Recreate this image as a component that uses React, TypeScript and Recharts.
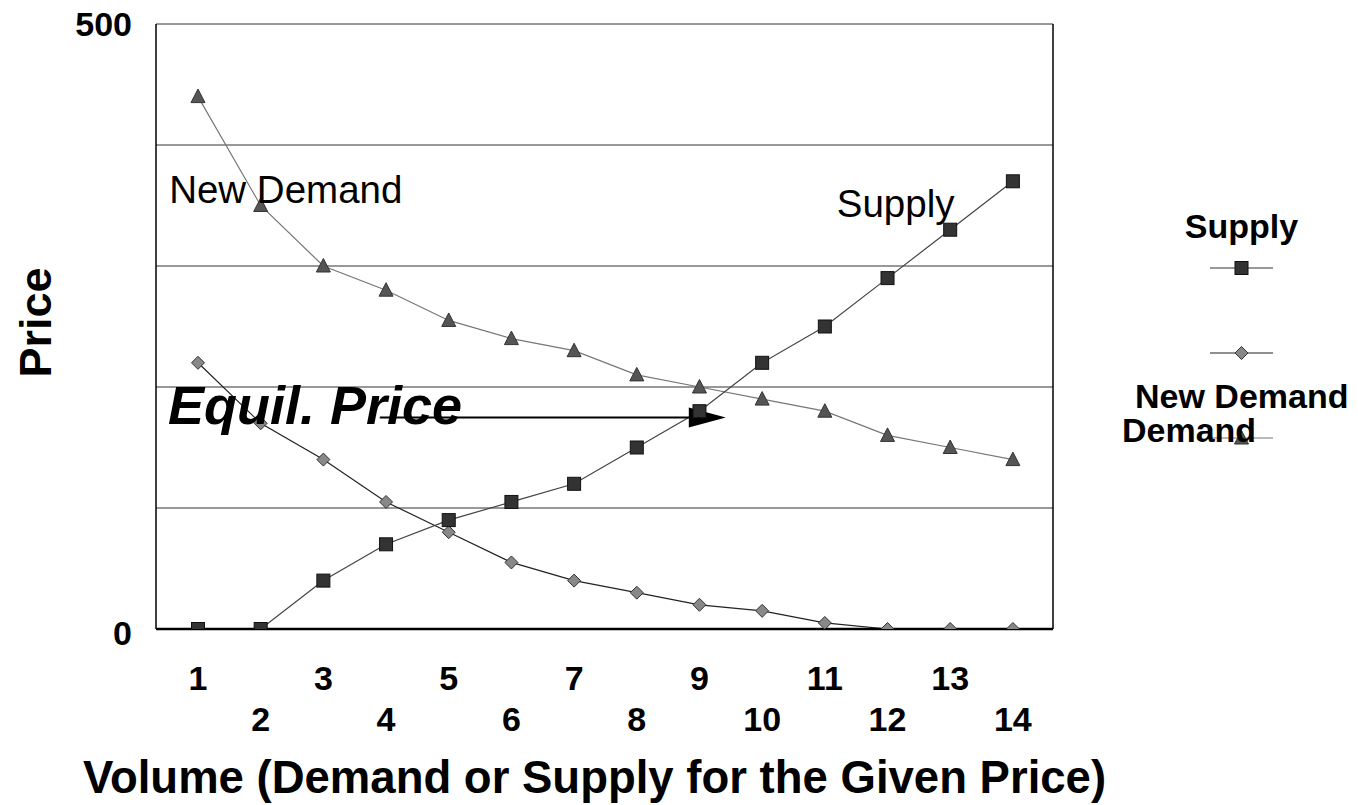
import { CartesianGrid, Line, LineChart, ReferenceDot, ReferenceLine, XAxis, YAxis } from 'recharts'

const volumes = [1, 2, 3, 4, 5, 6, 7, 8, 9, 10, 11, 12, 13, 14]
const supply = [0, 0, 40, 70, 90, 105, 120, 150, 180, 220, 250, 290, 330, 370]
const demand = [220, 170, 140, 105, 80, 55, 40, 30, 20, 15, 5, 0, 0, 0]
const newDemand = [440, 350, 300, 280, 255, 240, 230, 210, 200, 190, 180, 160, 150, 140]
const priceTicks = [0, 100, 200, 300, 400, 500]
const priceLabels = [0, 500]
const legendNames = ['Supply', 'New Demand', 'Demand']

const data = volumes.map((v, i) => ({
  volume: v,
  supply: supply[i],
  demand: demand[i],
  newDemand: newDemand[i],
}))

const FONT = '"Liberation Sans", Arial, sans-serif'
const X_MIN = 0.33
const X_MAX = 14.64
const W = 1358
const H = 805

function SquareDot({ cx, cy }: any) {
  if (cx == null || cy == null) return null
  return <rect x={cx - 6.5} y={cy - 6.5} width={13} height={13} fill="#333" stroke="#111" strokeWidth={1} />
}

function DiamondDot({ cx, cy }: any) {
  if (cx == null || cy == null) return null
  return (
    <polygon
      points={`${cx},${cy - 6.5} ${cx + 6.5},${cy} ${cx},${cy + 6.5} ${cx - 6.5},${cy}`}
      fill="#888"
      stroke="#333"
      strokeWidth={1}
    />
  )
}

function TriangleDot({ cx, cy }: any) {
  if (cx == null || cy == null) return null
  return (
    <polygon
      points={`${cx},${cy - 7.5} ${cx + 7},${cy + 6} ${cx - 7},${cy + 6}`}
      fill="#555"
      stroke="#333"
      strokeWidth={1}
    />
  )
}

// odd volumes on the upper row, even ones staggered below
function XTick({ x, y, payload }: any) {
  const v = payload.value
  const dy = v % 2 === 1 ? 61 : 102
  return (
    <text x={x} y={y + dy} textAnchor="middle" fontFamily={FONT} fontWeight="bold" fontSize={34} fill="#000">
      {v}
    </text>
  )
}

function YTick({ x, y, payload }: any) {
  if (!priceLabels.includes(payload.value)) return null
  const dy = payload.value === 0 ? 16 : 12
  return (
    <text x={x} y={y + dy} textAnchor="end" fontFamily={FONT} fontWeight="bold" fontSize={34} fill="#000">
      {payload.value}
    </text>
  )
}

function PriceLabel({ viewBox }: any) {
  const cx = viewBox.x + 35
  const cy = viewBox.y + viewBox.height / 2 - 4
  return (
    <text
      x={cx}
      y={cy}
      transform={`rotate(-90 ${cx} ${cy})`}
      textAnchor="middle"
      dominantBaseline="central"
      fontFamily={FONT}
      fontWeight="bold"
      fontSize={45}
      fill="#000"
    >
      Price
    </text>
  )
}

function VolumeLabel({ viewBox }: any) {
  return (
    <text
      x={viewBox.x + viewBox.width / 2 - 10}
      y={viewBox.y + 164}
      textAnchor="middle"
      fontFamily={FONT}
      fontWeight="bold"
      fontSize={45.5}
      fill="#000"
    >
      Volume (Demand or Supply for the Given Price)
    </text>
  )
}

const textShape = (label: string, size: number, weight: string, style: string) =>
  function TextShape({ cx, cy }: any) {
    return (
      <text x={cx} y={cy} fontFamily={FONT} fontSize={size} fontWeight={weight} fontStyle={style} fill="#000">
        {label}
      </text>
    )
  }

function ArrowShape({ x1, y1, x2 }: any) {
  const head = 37
  return (
    <g>
      <line x1={x1} y1={y1} x2={x2 - head + 2} y2={y1} stroke="#000" strokeWidth={2.2} />
      <polygon points={`${x2 - head},${y1 - 10} ${x2},${y1} ${x2 - head},${y1 + 10}`} fill="#000" />
    </g>
  )
}

function LegendBox() {
  const lineX1 = 1210
  const lineX2 = 1273
  const mid = 1241.5
  return (
    <svg width={W} height={H} style={{ position: 'absolute', left: 0, top: 0, pointerEvents: 'none' }}>
      <text x={mid} y={238} textAnchor="middle" fontFamily={FONT} fontWeight="bold" fontSize={34}>
        {legendNames[0]}
      </text>
      <line x1={lineX1} y1={268} x2={lineX2} y2={268} stroke="#333" strokeWidth={1.2} />
      <SquareDot cx={mid} cy={268} />
      <line x1={lineX1} y1={353} x2={lineX2} y2={353} stroke="#222" strokeWidth={1.2} />
      <DiamondDot cx={mid} cy={353} />
      <text x={1135} y={408} fontFamily={FONT} fontWeight="bold" fontSize={34}>
        {legendNames[1]}
      </text>
      <line x1={lineX1} y1={438} x2={lineX2} y2={438} stroke="#777" strokeWidth={1.2} />
      <TriangleDot cx={mid} cy={438} />
      <text x={1122} y={442} fontFamily={FONT} fontWeight="bold" fontSize={34}>
        {legendNames[2]}
      </text>
    </svg>
  )
}

export default function App() {
  return (
    <div style={{ position: 'relative', width: W, height: H, margin: '-8px 0 0 -8px', fontFamily: FONT }}>
      <LineChart width={W} height={H} data={data} margin={{ top: 24, right: 305, bottom: 0, left: 0 }}>
        <CartesianGrid vertical={false} stroke="#333" strokeWidth={1} />
        <ReferenceLine x={X_MAX} stroke="#000" strokeWidth={1.5} />
        <Line
          dataKey="newDemand"
          stroke="#777"
          strokeWidth={1.2}
          dot={<TriangleDot />}
          activeDot={false}
          isAnimationActive={false}
        />
        <Line
          dataKey="demand"
          stroke="#222"
          strokeWidth={1.2}
          dot={<DiamondDot />}
          activeDot={false}
          isAnimationActive={false}
        />
        <Line
          dataKey="supply"
          stroke="#444"
          strokeWidth={1.2}
          dot={<SquareDot />}
          activeDot={false}
          isAnimationActive={false}
        />
        <XAxis
          dataKey="volume"
          type="number"
          domain={[X_MIN, X_MAX]}
          ticks={volumes}
          interval={0}
          height={176}
          tickLine={false}
          tickSize={0}
          tickMargin={0}
          axisLine={{ stroke: '#000', strokeWidth: 2.5 }}
          tick={<XTick />}
          label={<VolumeLabel />}
        />
        <YAxis
          type="number"
          domain={[0, 500]}
          ticks={priceTicks}
          allowDataOverflow
          width={156}
          tickLine={false}
          tickSize={0}
          tickMargin={24}
          axisLine={{ stroke: '#000', strokeWidth: 1.5 }}
          tick={<YTick />}
          label={<PriceLabel />}
        />
        <ReferenceDot x={0.54} y={352} r={0} ifOverflow="visible" shape={textShape('New Demand', 38.5, 'normal', 'normal')} />
        <ReferenceDot x={11.19} y={340.5} r={0} ifOverflow="visible" shape={textShape('Supply', 38.5, 'normal', 'normal')} />
        <ReferenceLine
          segment={[
            { x: 3.9, y: 174.8 },
            { x: 9.42, y: 174.8 },
          ]}
          ifOverflow="visible"
          shape={<ArrowShape />}
        />
        <ReferenceDot x={0.52} y={169.4} r={0} ifOverflow="visible" shape={textShape('Equil. Price', 54, 'bold', 'italic')} />
      </LineChart>
      <LegendBox />
    </div>
  )
}
